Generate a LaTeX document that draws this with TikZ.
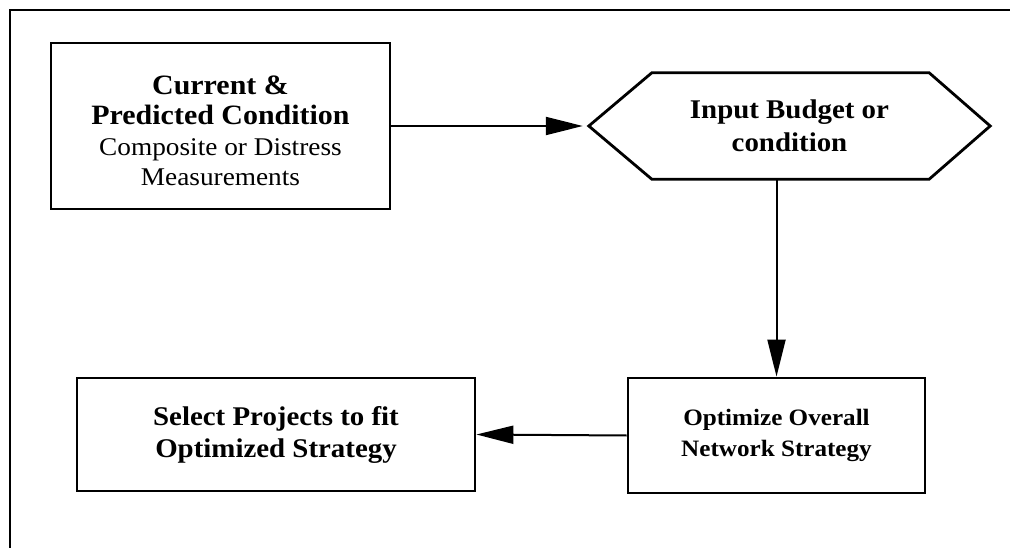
\documentclass[tikz,border=0pt]{standalone}
\usepackage{fontspec}
\setmainfont{Liberation Serif}[FakeStretch=1.07]
\usetikzlibrary{arrows.meta}
\tikzset{
  box/.style={draw, line width=2.8pt, align=center, inner sep=0pt},
  flow/.style={line width=2pt, -{Triangle[length=37pt,width=18pt]}},
  frame/.style={line width=1.6pt},
}
\begin{document}
\begin{tikzpicture}[x=1pt,y=-1pt]
\useasboundingbox (0,0) rectangle (1010,548);
% outer frame, open at right and bottom
\draw[frame] (10,548) -- (10,10) -- (1010,10);

% condition input: frame and its text, set a little below centre
\node[box, minimum width=339pt, minimum height=166pt] (cur) at (220.5,126) {};
\node[align=center, inner sep=0pt, font=\fontsize{28}{30.5}\selectfont]
  (curtext) at ([yshift=-5pt]cur.center)
  {\textbf{Current \&}\\\textbf{Predicted Condition}\\
   {\fontsize{25.5}{30}\selectfont Composite or Distress}\\
   {\fontsize{25.5}{30}\selectfont Measurements}};

% budget / condition input (hexagon)
\node[minimum width=401pt, minimum height=106pt, inner sep=0pt, align=center,
      font=\fontsize{27}{33}\selectfont\bfseries] (hex) at (789.5,126)
  {Input Budget or\\condition};
\draw[line width=2.8pt, line join=miter]
  (hex.west) -- ([xshift=63pt]hex.north west) -- ([xshift=-61pt]hex.north east)
  -- (hex.east) -- ([xshift=-61pt]hex.south east) -- ([xshift=63pt]hex.south west)
  -- cycle;

% optimisation
\node[box, minimum width=297pt, minimum height=115pt,
      font=\fontsize{23.5}{31}\selectfont\bfseries] (opt) at (776.5,435.5)
  {Optimize Overall\\Network Strategy};

% project selection
\node[box, minimum width=398pt, minimum height=113pt,
      font=\fontsize{27}{32}\selectfont\bfseries] (sel) at (276,434.5)
  {Select Projects to fit\\Optimized Strategy};

% connectors
\draw[flow, shorten >=6pt] (cur.east) -- (hex.west);
\draw[flow] (hex.south -| opt.north) -- (opt.north);
\draw[flow] (opt.west) -- (sel.east);
\end{tikzpicture}
\end{document}
